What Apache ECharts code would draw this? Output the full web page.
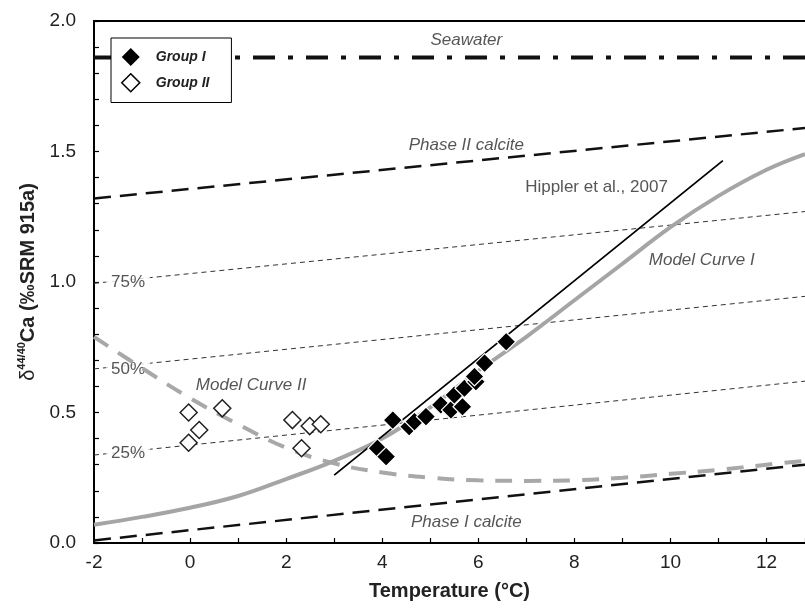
<!DOCTYPE html>
<html><head><meta charset="utf-8">
<script src="https://cdn.jsdelivr.net/npm/echarts@6/dist/echarts.min.js"></script>
<style>html,body{margin:0;padding:0;background:#fff}#c{width:805px;height:613px}</style>
</head><body><div id="c"></div>
<script>
// ---- data ----
const seawaterX = [-2, 12.8];
const seawaterY = [1.86, 1.86];
const phase2X = [-2, 12.8];
const phase2Y = [1.32, 1.59];
const phase1X = [-2, 12.8];
const phase1Y = [0.01, 0.30];
const mixX = [-2, 12.8];
const mix75Y = [0.995, 1.27];
const mix50Y = [0.667, 0.945];
const mix25Y = [0.337, 0.62];
const hipplerX = [3.0, 11.09];
const hipplerY = [0.26, 1.465];
const modelT = [-2, -1, 0, 1, 2, 3, 4, 5, 6, 7, 8, 9, 10, 11, 12, 12.8];
const modelIY = [0.07, 0.10, 0.135, 0.18, 0.245, 0.315, 0.40, 0.52, 0.66, 0.79, 0.93, 1.07, 1.21, 1.33, 1.43, 1.49];
const modelIIY = [0.79, 0.67, 0.555, 0.455, 0.365, 0.305, 0.27, 0.25, 0.24, 0.238, 0.24, 0.25, 0.265, 0.28, 0.30, 0.315];
const groupIX = [4.22, 3.90, 4.08, 4.56, 4.67, 4.91, 5.22, 5.43, 5.67, 5.50, 5.71, 5.95, 5.92, 6.13, 6.58];
const groupIY = [0.471, 0.363, 0.331, 0.446, 0.465, 0.484, 0.529, 0.510, 0.522, 0.567, 0.593, 0.618, 0.638, 0.689, 0.771];
const groupIIX = [-0.03, 0.19, -0.03, 0.67, 2.13, 2.49, 2.72, 2.32];
const groupIIY = [0.50, 0.433, 0.384, 0.516, 0.471, 0.448, 0.455, 0.363];
const italicText = ['Seawater', 'Phase II calcite', 'Phase I calcite', 'Model Curve I', 'Model Curve II'];
const italicX = [5.75, 5.75, 5.75, 10.65, 1.27];
const italicY = [1.925, 1.525, 0.08, 1.084, 0.605];
const plainText = ['Hippler et al., 2007'];
const plainX = [8.46];
const plainY = [1.364];
const pctText = ['75%', '50%', '25%'];
const pctX = [-1.29, -1.29, -1.29];
const pctY = [0.998, 0.665, 0.345];
const xTickLabels = ['-2', '0', '2', '4', '6', '8', '10', '12'];
const yTickLabels = ['0.0', '0.5', '1.0', '1.5', '2.0'];

const zip = (a, b) => a.map((v, i) => [v, b[i]]);
const FONT = 'Liberation Sans, Arial, sans-serif';

const chart = echarts.init(document.getElementById('c'), null, {renderer: 'canvas'});

function lineSeries(name, xs, ys, style, z, smooth) {
  return {
    name, type: 'line', data: zip(xs, ys), symbol: 'none', showSymbol: false,
    smooth: smooth || false, z: z, silent: true, lineStyle: style,
    emphasis: {disabled: true}
  };
}

function textSeries(texts, xs, ys, labelStyle, z) {
  return {
    type: 'scatter', z: z, silent: true, symbolSize: 1,
    itemStyle: {color: 'rgba(0,0,0,0)', borderWidth: 0},
    data: texts.map((t, i) => ({value: [xs[i], ys[i]], name: t})),
    label: Object.assign({show: true, position: 'inside', formatter: p => p.name,
      fontFamily: FONT, color: '#2a2a2a'}, labelStyle),
    labelLayout: {hideOverlap: false},
    emphasis: {disabled: true}
  };
}

const option = {
  animation: false,
  backgroundColor: '#fff',
  grid: {left: 94, top: 21, right: 0, bottom: 70, containLabel: false, outerBoundsMode: 'none'},
  legend: {
    orient: 'vertical', left: 111, top: 38,
    padding: [10, 22, 10, 10], itemWidth: 18, itemHeight: 18, itemGap: 7,
    borderColor: '#000', borderWidth: 1, backgroundColor: '#fff',
    data: [
      {name: 'Group I', icon: 'diamond', itemStyle: {color: '#000', borderColor: '#000', borderWidth: 0}},
      {name: 'Group II', icon: 'diamond', itemStyle: {color: '#fff', borderColor: '#000', borderWidth: 1.5}}
    ],
    textStyle: {fontFamily: FONT, fontSize: 14, fontWeight: 'bold', fontStyle: 'italic', color: '#222', padding: [0, 0, 0, 11]},
    selectedMode: false
  },
  xAxis: [{
    type: 'value', min: -2, max: 12.8, interval: 1,
    axisLine: {show: true, onZero: false, lineStyle: {color: '#000', width: 2}},
    axisTick: {show: true, inside: true, length: 5, lineStyle: {color: '#000', width: 1.2}},
    splitLine: {show: false},
    axisLabel: {
      fontFamily: FONT, fontSize: 19, color: '#222', margin: 10,
      formatter: v => {
        const r = Math.round(v);
        if (Math.abs(v - r) > 1e-6 || r % 2 !== 0) return '';
        const s = String(r);
        return xTickLabels.includes(s) ? s : '';
      }
    },
    name: 'Temperature (°C)', nameLocation: 'middle', nameGap: 38,
    nameTextStyle: {fontFamily: FONT, fontSize: 20, fontWeight: 'bold', color: '#222'}
  }, {
    type: 'value', min: -2, max: 12.8, position: 'top',
    axisLine: {show: true, onZero: false, lineStyle: {color: '#000', width: 2}},
    axisTick: {show: false}, axisLabel: {show: false}, splitLine: {show: false}
  }],
  yAxis: {
    type: 'value', min: 0, max: 2, interval: 0.1,
    axisLine: {show: true, onZero: false, lineStyle: {color: '#000', width: 2}},
    axisTick: {show: true, inside: true, length: 5, lineStyle: {color: '#000', width: 1.2}},
    splitLine: {show: false},
    axisLabel: {
      fontFamily: FONT, fontSize: 19, color: '#222', margin: 18,
      formatter: v => {
        if (Math.abs(v * 2 - Math.round(v * 2)) > 1e-6) return '';
        const s = v.toFixed(1);
        return yTickLabels.includes(s) ? s : '';
      }
    },
    name: '{d|δ}{s|44/40}{b|Ca (‰SRM 915a)}', nameLocation: 'middle', nameRotate: 90, nameGap: 48,
    nameTextStyle: {
      fontFamily: FONT, color: '#222',
      rich: {
        d: {fontFamily: FONT, fontSize: 20, fontWeight: 'normal', color: '#222', lineHeight: 24},
        s: {fontFamily: FONT, fontSize: 11, fontWeight: 'bold', color: '#222', verticalAlign: 'top', lineHeight: 24},
        b: {fontFamily: FONT, fontSize: 20, fontWeight: 'bold', color: '#222', lineHeight: 24}
      }
    }
  },
  series: [
    lineSeries('mix75', mixX, mix75Y, {color: '#333', width: 1, type: [5, 4]}, 1),
    lineSeries('mix50', mixX, mix50Y, {color: '#333', width: 1, type: [5, 4]}, 1),
    lineSeries('mix25', mixX, mix25Y, {color: '#333', width: 1, type: [5, 4]}, 1),
    textSeries(pctText, pctX, pctY, {fontSize: 17, backgroundColor: '#fff', padding: [1, 5]}, 2),
    lineSeries('Seawater', seawaterX, seawaterY, {color: '#111', width: 4, type: [22, 13, 5, 13]}, 3),
    lineSeries('Phase II calcite', phase2X, phase2Y, {color: '#111', width: 2.5, type: [17, 9]}, 3),
    lineSeries('Phase I calcite', phase1X, phase1Y, {color: '#111', width: 2.5, type: [17, 9]}, 3),
    lineSeries('Model Curve II', modelT, modelIIY, {color: '#a8a8a8', width: 4, type: [17, 12]}, 3, 0.4),
    lineSeries('Model Curve I', modelT, modelIY, {color: '#a5a5a5', width: 4}, 3, 0.4),
    lineSeries('Hippler et al., 2007', hipplerX, hipplerY, {color: '#000', width: 1.8}, 4),
    textSeries(italicText, italicX, italicY, {fontSize: 17, fontStyle: 'italic'}, 4),
    textSeries(plainText, plainX, plainY, {fontSize: 17}, 4),
    {
      name: 'Group II', type: 'scatter', symbol: 'diamond', symbolSize: 17, z: 5,
      data: zip(groupIIX, groupIIY),
      itemStyle: {color: '#fff', borderColor: '#222', borderWidth: 1.5, opacity: 1},
      emphasis: {disabled: true}
    },
    {
      name: 'Group I', type: 'scatter', symbol: 'diamond', symbolSize: 19, z: 6,
      data: zip(groupIX, groupIY),
      itemStyle: {color: '#000', borderColor: '#fff', borderWidth: 1.2, opacity: 1},
      emphasis: {disabled: true}
    }
  ]
};
chart.setOption(option);
</script>
</body></html>
